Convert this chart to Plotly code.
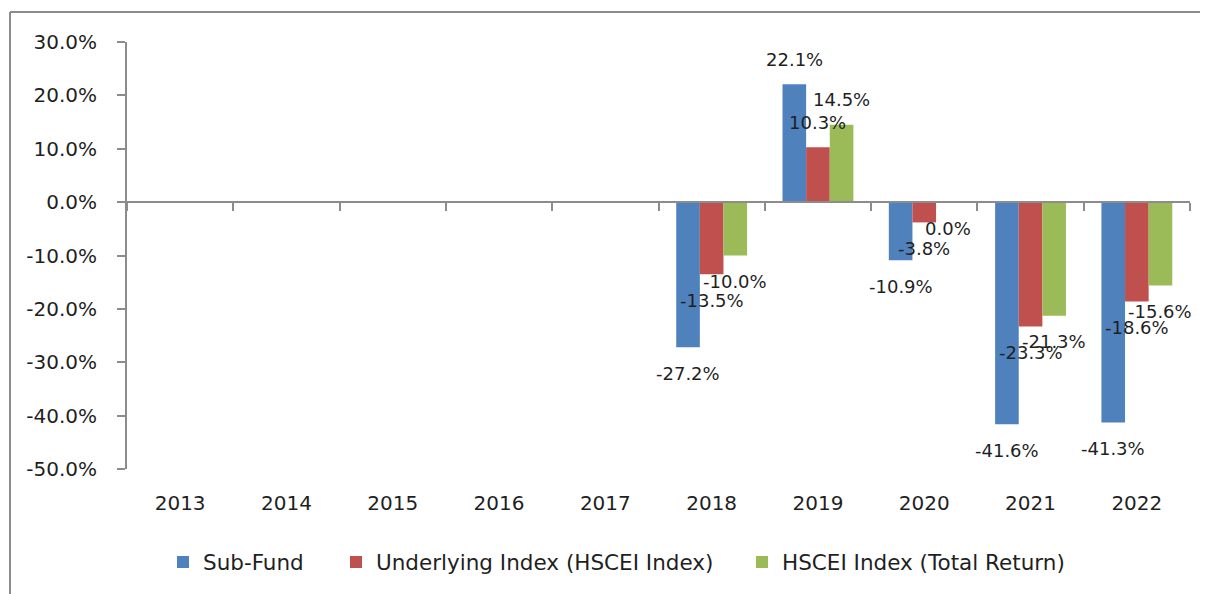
import plotly.graph_objects as go

categories = ['2013', '2014', '2015', '2016', '2017', '2018', '2019', '2020', '2021', '2022']
sub_fund = [None, None, None, None, None, -27.2, 22.1, -10.9, -41.6, -41.3]
underlying_index = [None, None, None, None, None, -13.5, 10.3, -3.8, -23.3, -18.6]
hscei_total_return = [None, None, None, None, None, -10.0, 14.5, 0.0, -21.3, -15.6]
series_names = ['Sub-Fund', 'Underlying Index (HSCEI Index)', 'HSCEI Index (Total Return)']
colors = ['#4F81BD', '#C0504D', '#9BBB59']
y_ticks = [30, 20, 10, 0, -10, -20, -30, -40, -50]

FONT = 'DejaVu Sans'
TXT = '#1F1F1F'
AX = '#8C8C8C'

OFF = 8  # page body margin
W, H = 1208 - OFF, 594 - OFF
L, T = 127 - OFF, 42 - OFF
R = W - (1190 - OFF)
B = H - (469 - OFF)
pw, ph = W - L - R, H - T - B
def px(xp):
    return (xp - OFF - L) / pw
def py(yp):
    return (H - B - (yp - OFF)) / ph

legend_ids = ['legend', 'legend2', 'legend3']
legend_left = [163, 336, 742]

fig = go.Figure()
all_series = [sub_fund, underlying_index, hscei_total_return]
for name, vals, col, lid in zip(series_names, all_series, colors, legend_ids):
    fig.add_trace(go.Bar(x=categories, y=vals, name=name, marker=dict(color=col, line=dict(width=0)),
                         xaxis='x', yaxis='y', legend=lid))

# helper invisible trace for the zero-line axis
fig.add_trace(go.Scatter(x=categories, y=[0] * len(categories), mode='markers', marker=dict(opacity=0),
                         showlegend=False, hoverinfo='skip', xaxis='x2', yaxis='y'))

bargap = 1.5 / 4.5
bw = (1 - bargap) / 3
annotations = []
for i, vals in enumerate(all_series):
    off = (i - 1) * bw
    for j, v in enumerate(vals):
        if v is None:
            continue
        annotations.append(dict(x=j + off, y=v, xref='x', yref='y', text=f'{v:.1f}%', showarrow=False,
                                yshift=25 if v > 0 else -26, font=dict(family=FONT, size=18, color=TXT)))

y0, y1 = -50, 30
zero_pos = (0 - y0) / (y1 - y0)

shapes = [
    dict(type='line', xref='paper', yref='paper', x0=px(10), x1=px(1212), y0=py(12), y1=py(12),
         line=dict(color=AX, width=2)),
    dict(type='line', xref='paper', yref='paper', x0=px(10), x1=px(10), y0=py(12), y1=py(600),
         line=dict(color=AX, width=2)),
]

legend_style = dict(orientation='h', xanchor='left', y=py(562), yanchor='middle',
                    font=dict(family=FONT, size=21.5, color=TXT), bgcolor='rgba(0,0,0,0)')

fig.update_layout(
    width=W, height=H,
    margin=dict(l=L, r=R, t=T, b=B),
    paper_bgcolor='white', plot_bgcolor='white',
    barmode='group', bargap=bargap, bargroupgap=0,
    font=dict(family=FONT, size=20, color=TXT),
    xaxis=dict(type='category', categoryorder='array', categoryarray=categories, range=[-0.5, 9.5],
               showline=False, ticks='', showgrid=False, zeroline=False,
               tickfont=dict(family=FONT, size=20, color=TXT), ticklabelstandoff=20),
    xaxis2=dict(type='category', categoryorder='array', categoryarray=categories, range=[-0.5, 9.5],
                overlaying='x', anchor='free', position=zero_pos, side='bottom', matches='x',
                showline=True, linecolor=AX, linewidth=2, ticks='outside', tickson='boundaries',
                ticklen=8, tickwidth=2, tickcolor=AX, showticklabels=False, showgrid=False, zeroline=False),
    yaxis=dict(range=[y0, y1], tickvals=y_ticks, ticktext=[f'{t:.1f}%' for t in y_ticks],
               showline=True, linecolor=AX, linewidth=2, ticks='outside', ticklen=8, tickwidth=2,
               tickcolor=AX, showgrid=False, zeroline=False, ticklabelstandoff=16,
               tickfont=dict(family=FONT, size=20, color=TXT)),
    legend=dict(x=px(legend_left[0]), **legend_style),
    legend2=dict(x=px(legend_left[1]), **legend_style),
    legend3=dict(x=px(legend_left[2]), **legend_style),
    annotations=annotations,
    shapes=shapes,
)

fig.write_html('out.html')
